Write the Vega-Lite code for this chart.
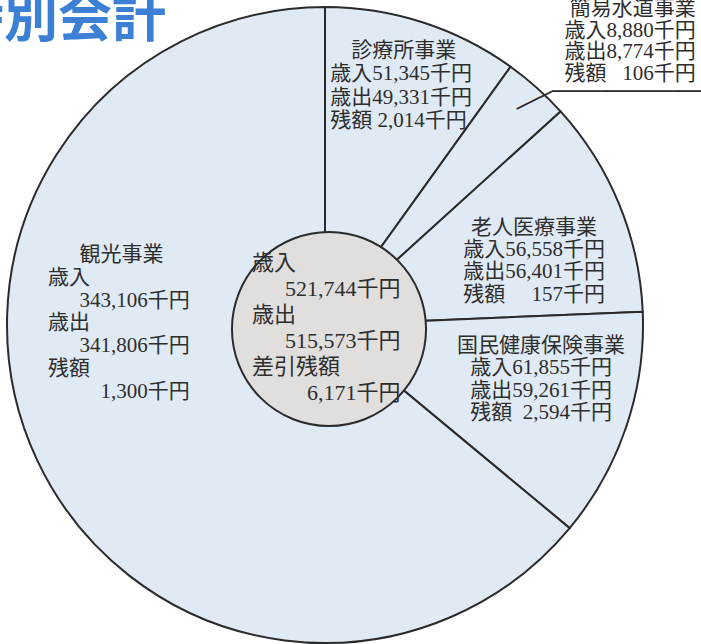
{
  "$schema": "https://vega.github.io/schema/vega-lite/v6.json",
  "width": 650,
  "height": 650,
  "autosize": "none",
  "padding": {"left": 0, "top": 0, "right": 51, "bottom": 0},
  "background": "#ffffff",
  "config": {"view": {"stroke": null}},
  "datasets": {
    "heading": [
      {"heading": "特別会計"}
    ],
    "slices": [
      {"order": 1, "name": "診療所事業", "angle": 35.7, "revenue": 51345, "expenditure": 49331, "balance": 2014,
       "label": "\u200b\u3000診療所事業\n歳入51,345千円\n歳出49,331千円\n残額\u00a02,014千円"},
      {"order": 2, "name": "簡易水道事業", "angle": 12.1, "revenue": 8880, "expenditure": 8774, "balance": 106,
       "label": "簡易水道事業\n歳入8,880千円\n歳出8,774千円\n残額\u00a0\u00a0\u00a0106千円"},
      {"order": 3, "name": "老人医療事業", "angle": 39.8, "revenue": 56558, "expenditure": 56401, "balance": 157,
       "label": "老人医療事業\n歳入56,558千円\n歳出56,401千円\n残額\u3000\u00a0157千円"},
      {"order": 4, "name": "国民健康保険事業", "angle": 42.1, "revenue": 61855, "expenditure": 59261, "balance": 2594,
       "label": "国民健康保険事業\n歳入61,855千円\n歳出59,261千円\n残額\u00a0\u00a02,594千円"},
      {"order": 5, "name": "観光事業", "angle": 230.3, "revenue": 343106, "expenditure": 341806, "balance": 1300,
       "label": "\u200b\u3000\u00a0\u00a0観光事業\n歳入\n\u200b\u3000\u00a0\u00a0343,106千円\n歳出\n\u200b\u3000\u00a0\u00a0341,806千円\n残額\n\u200b\u3000\u3000\u00a0\u00a01,300千円"}
    ],
    "total": [
      {"name": "合計", "revenue": 521744, "expenditure": 515573, "balance": 6171,
       "label": "歳入\n\u200b\u3000\u00a0\u00a0521,744千円\n歳出\n\u200b\u3000\u00a0\u00a0515,573千円\n差引残額\n\u200b\u3000\u3000\u00a0\u00a06,171千円"}
    ]
  },
  "data": {"name": "slices"},
  "layer": [
    {
      "mark": {"type": "arc", "radius": 318, "fill": "#e0eaf5", "stroke": "#2b2b2b", "strokeWidth": 2},
      "encoding": {
        "theta": {"field": "angle", "type": "quantitative", "stack": true},
        "order": {"field": "order", "type": "quantitative"}
      }
    },
    {
      "mark": {"type": "text", "radius": 252, "dx": -72, "dy": -34, "align": "left", "baseline": "middle", "lineBreak": "\n", "lineHeight": 23.3, "fontSize": 21, "font": "Liberation Serif, Noto Sans CJK JP", "color": "#2e2e2e"},
      "encoding": {
        "theta": {"field": "angle", "type": "quantitative", "stack": true},
        "order": {"field": "order", "type": "quantitative"},
        "text": {"condition": {"test": "datum.name === '診療所事業'", "field": "label"}, "value": ""}
      }
    },
    {
      "mark": {"type": "text", "radius": 384, "dx": 115, "dy": -29.5, "align": "right", "baseline": "middle", "lineBreak": "\n", "lineHeight": 21.7, "fontSize": 21, "font": "Liberation Serif, Noto Sans CJK JP", "color": "#2e2e2e"},
      "encoding": {
        "theta": {"field": "angle", "type": "quantitative", "stack": true},
        "order": {"field": "order", "type": "quantitative"},
        "text": {"condition": {"test": "datum.name === '簡易水道事業'", "field": "label"}, "value": ""}
      }
    },
    {
      "mark": {"type": "text", "radius": 227, "dx": -1, "dy": -11, "align": "center", "baseline": "middle", "lineBreak": "\n", "lineHeight": 22.3, "fontSize": 21, "font": "Liberation Serif, Noto Sans CJK JP", "color": "#2e2e2e"},
      "encoding": {
        "theta": {"field": "angle", "type": "quantitative", "stack": true},
        "order": {"field": "order", "type": "quantitative"},
        "text": {"condition": {"test": "datum.name === '老人医療事業'", "field": "label"}, "value": ""}
      }
    },
    {
      "mark": {"type": "text", "radius": 228, "dx": 0, "dy": -52, "align": "center", "baseline": "middle", "lineBreak": "\n", "lineHeight": 22.3, "fontSize": 21, "font": "Liberation Serif, Noto Sans CJK JP", "color": "#2e2e2e"},
      "encoding": {
        "theta": {"field": "angle", "type": "quantitative", "stack": true},
        "order": {"field": "order", "type": "quantitative"},
        "text": {"condition": {"test": "datum.name === '国民健康保険事業'", "field": "label"}, "value": ""}
      }
    },
    {
      "mark": {"type": "text", "radius": 200, "dx": -96, "dy": -155, "align": "left", "baseline": "middle", "lineBreak": "\n", "lineHeight": 22.8, "fontSize": 21, "font": "Liberation Serif, Noto Sans CJK JP", "color": "#2e2e2e"},
      "encoding": {
        "theta": {"field": "angle", "type": "quantitative", "stack": true},
        "order": {"field": "order", "type": "quantitative"},
        "text": {"condition": {"test": "datum.name === '観光事業'", "field": "label"}, "value": ""}
      }
    },
    {
      "mark": {"type": "text", "radius": 384, "dx": -27.7, "dy": 53, "align": "left", "baseline": "middle", "fontSize": 20, "font": "DejaVu Sans Mono", "color": "#2b2b2b"},
      "encoding": {
        "theta": {"field": "angle", "type": "quantitative", "stack": true},
        "order": {"field": "order", "type": "quantitative"},
        "text": {"condition": {"test": "datum.name === '簡易水道事業'", "value": "─────────────"}, "value": ""}
      }
    },
    {
      "mark": {"type": "text", "radius": 384, "angle": 333.4, "dx": -88.5, "dy": 35, "align": "left", "baseline": "middle", "fontSize": 22.3, "font": "DejaVu Sans Mono", "color": "#2b2b2b"},
      "encoding": {
        "theta": {"field": "angle", "type": "quantitative", "stack": true},
        "order": {"field": "order", "type": "quantitative"},
        "text": {"condition": {"test": "datum.name === '簡易水道事業'", "value": "───"}, "value": ""}
      }
    },
    {
      "data": {"name": "total"},
      "mark": {"type": "arc", "theta": 0, "theta2": 6.2832, "radius": 97, "radius2": 0, "fill": "#e0dfdd", "stroke": "#2b2b2b", "strokeWidth": 2, "xOffset": 4, "yOffset": 4}
    },
    {
      "data": {"name": "total"},
      "mark": {"type": "text", "dx": -73, "dy": -62, "align": "left", "baseline": "middle", "lineBreak": "\n", "lineHeight": 26, "fontSize": 22, "font": "Liberation Serif, Noto Sans CJK JP", "color": "#2e2e2e"},
      "encoding": {
        "text": {"field": "label"}
      }
    },
    {
      "data": {"name": "heading"},
      "mark": {"type": "text", "dx": -375, "dy": -288, "align": "left", "baseline": "alphabetic", "fontSize": 54, "fontWeight": "bold", "font": "Noto Sans CJK JP", "color": "#3b80d4"},
      "encoding": {
        "text": {"field": "heading"}
      }
    }
  ]
}
